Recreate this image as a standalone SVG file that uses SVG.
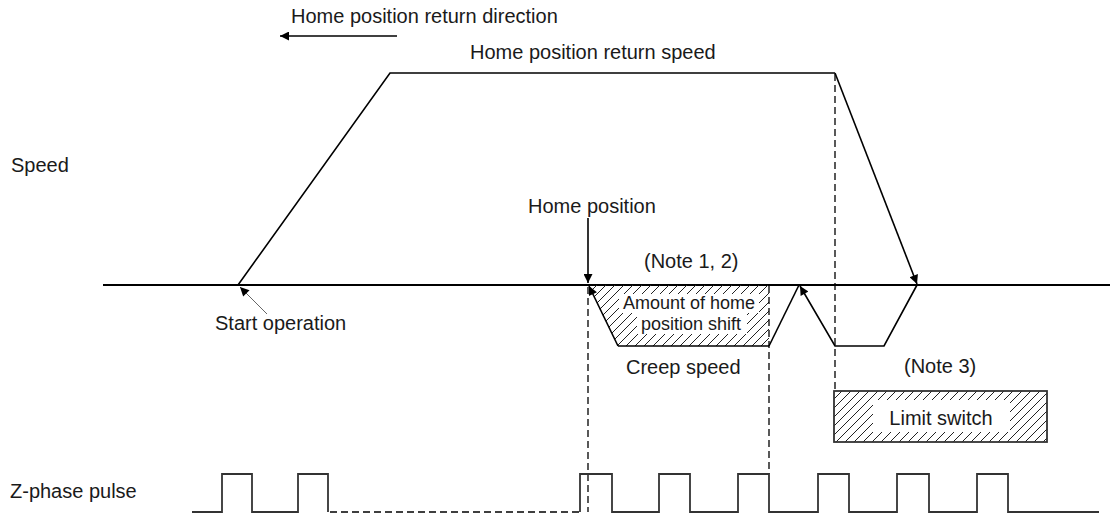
<svg xmlns="http://www.w3.org/2000/svg" width="1110" height="515" viewBox="0 0 1110 515">
<style>
text{font-family:"Liberation Sans",Arial,sans-serif;fill:#1a1a1a;font-size:20px}
.sm{font-size:18px}
.ln{fill:none;stroke:#000;stroke-width:1.6}
.ax{fill:none;stroke:#000;stroke-width:2.2}
.ds{fill:none;stroke:#000;stroke-width:1.3;stroke-dasharray:7,4}
.pl{fill:none;stroke:#333;stroke-width:1.8}
</style>
<defs>
<marker id="ah" viewBox="0 0 10 10" refX="10" refY="5" markerUnits="userSpaceOnUse" markerWidth="11" markerHeight="9" orient="auto">
<path d="M0,0 L10,5 L0,10 z" fill="#000"/>
</marker>
<pattern id="hatch" patternUnits="userSpaceOnUse" width="9" height="9">
<path d="M-2,2 L2,-2 M0,9 L9,0 M7,11 L11,7" stroke="#222" stroke-width="1"/>
</pattern>
</defs>

<g id="axis">
<line class="ax" x1="103" y1="285" x2="1110" y2="285"/>
</g>

<g id="hatched-shift">
<polygon points="588,285 769,285 769,346 618,346" fill="url(#hatch)"/>
<rect x="619" y="294" width="140" height="19" fill="#fff"/>
<rect x="637" y="313" width="110" height="21" fill="#fff"/>
<text class="sm" x="689" y="309" text-anchor="middle">Amount of home</text>
<text class="sm" x="691" y="330" text-anchor="middle">position shift</text>
</g>

<g id="limit-switch">
<rect x="834" y="391" width="213" height="51" fill="url(#hatch)" stroke="#333" stroke-width="1.8"/>
<rect x="873" y="400" width="137" height="32" fill="#fff"/>
<text x="941" y="425" text-anchor="middle">Limit switch</text>
</g>

<g id="connectors">
<line class="ln" x1="397" y1="36" x2="280" y2="36" marker-end="url(#ah)"/>
<polyline class="ln" points="238,285 390,73 835,73"/>
<line class="ln" x1="835" y1="73" x2="917" y2="284" marker-end="url(#ah)"/>
<polyline class="ln" points="917,285 884,346 835,346 800,286" marker-end="url(#ah)"/>
<line class="ln" x1="769" y1="346" x2="799" y2="285"/>
<line class="ln" x1="618" y1="346" x2="769" y2="346" stroke-width="2"/>
<line class="ln" x1="618" y1="346" x2="589" y2="286" marker-end="url(#ah)"/>
<line class="ln" x1="588" y1="218" x2="588" y2="283" marker-end="url(#ah)"/>
<line x1="267" y1="314" x2="240" y2="287" stroke="#666" stroke-width="1" marker-end="url(#ah)"/>
<line class="ds" x1="588" y1="287" x2="588" y2="512"/>
<line class="ds" x1="769" y1="286" x2="769" y2="474"/>
<line class="ds" x1="835" y1="74" x2="835" y2="389"/>
<line class="ds" x1="330" y1="512" x2="580" y2="512"/>
</g>

<g id="z-phase-pulse">
<polyline class="pl" points="192,512 222,512 222,474 252,474 252,512 298,512 298,474 328,474 328,512"/>
<polyline class="pl" points="580,512 580,474 612,474 612,512 659,512 659,474 690,474 690,512 738,512 738,474 769,474 769,512 818,512 818,474 849,474 849,512 897,512 897,474 929,474 929,512 977,512 977,474 1008,474 1008,512 1099,512"/>
</g>

<g id="labels">
<text x="291" y="23">Home position return direction</text>
<text x="470" y="59">Home position return speed</text>
<text x="11" y="172">Speed</text>
<text x="528" y="213">Home position</text>
<text x="644" y="268">(Note 1, 2)</text>
<text x="215" y="330">Start operation</text>
<text x="626" y="374">Creep speed</text>
<text x="904" y="373">(Note 3)</text>
<text x="10" y="498">Z-phase pulse</text>
</g>
</svg>
